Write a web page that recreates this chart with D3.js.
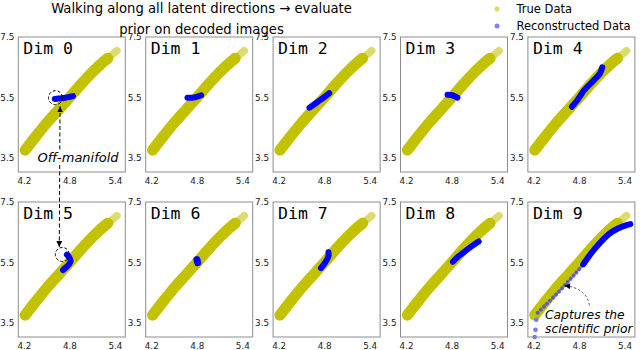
<!DOCTYPE html>
<html>
<head>
<meta charset="utf-8">
<script src="https://cdn.jsdelivr.net/npm/d3@7"></script>
<style>
  body { margin: 0; background: #fff; }
  text { font-family: "DejaVu Sans", sans-serif; }
</style>
</head>
<body>
<svg id="fig" width="640" height="350"></svg>
<script>
// tick labels shared by every panel
var xTicks = [4.2, 4.8, 5.4];
var yTicks = [3.5, 5.5, 7.5];
var dims = [0, 1, 2, 3, 4, 5, 6, 7, 8, 9];

// true data: centre of the dense yellow manifold, and its sparse tail
var trueX = [4.21, 4.35, 4.5, 4.65, 4.8, 4.95, 5.1, 5.25, 5.3];
var trueY = [3.77, 4.22, 4.68, 5.1, 5.52, 5.95, 6.35, 6.7, 6.8];
var tailX = [5.28, 5.35, 5.42];
var tailY = [6.76, 6.9, 7.05];

// reconstructed data when walking along each latent direction
var walkX = [
  [4.6, 4.65, 4.72, 4.78, 4.84],
  [4.67, 4.72, 4.78, 4.85],
  [4.6, 4.7, 4.8, 4.86],
  [4.74, 4.8, 4.87],
  [4.7, 4.78, 4.86, 4.94, 5.01, 5.07, 5.1],
  [4.76, 4.79, 4.81, 4.79, 4.75, 4.71],
  [4.795, 4.805],
  [4.75, 4.79, 4.83, 4.85, 4.85],
  [4.81, 4.88, 4.95, 5.05, 5.15],
  [4.85, 4.95, 5.05, 5.19, 5.3, 5.4, 5.47]
];
var walkY = [
  [5.46, 5.47, 5.49, 5.52, 5.55],
  [5.5, 5.5, 5.52, 5.58],
  [5.17, 5.35, 5.53, 5.65],
  [5.6, 5.58, 5.5],
  [5.2, 5.45, 5.74, 5.95, 6.13, 6.3, 6.5],
  [5.76, 5.68, 5.57, 5.45, 5.35, 5.26],
  [5.6, 5.5],
  [5.32, 5.45, 5.6, 5.72, 5.84],
  [5.53, 5.7, 5.84, 6.03, 6.2],
  [5.45, 5.8, 6.1, 6.45, 6.62, 6.72, 6.77]
];
// dim 9: the sparser lower part of the walk
var sparseX = [4.25, 4.35, 4.45, 4.55, 4.65, 4.75, 4.85];
var sparseY = [3.85, 4.1, 4.35, 4.6, 4.88, 5.15, 5.45];
var looseX = [4.21, 4.22, 4.23];
var looseY = [3.05, 3.29, 3.62];

// layout
var left0 = 18.3, colStep = 127.4, top0 = 37, rowStep = 165;
var panelW = 107, panelH = 135;
var yellow = "#c2c200", blue = "#0000ff";

var svg = d3.select("#fig");

var x = d3.scaleLinear().domain([4.12, 5.53]).range([0, panelW]);
var y = d3.scaleLinear().domain([3.05, 7.5]).range([panelH, 0]);

function ox(i) { return left0 + (i % 5) * colStep; }
function oy(i) { return top0 + Math.floor(i / 5) * rowStep; }

var line = d3.line()
  .x(function(d) { return x(d[0]); })
  .y(function(d) { return y(d[1]); })
  .curve(d3.curveCatmullRom);

function pts(xs, ys) { return xs.map(function(v, i) { return [v, ys[i]]; }); }

// arrow markers
var defs = svg.append("defs");
defs.append("marker")
  .attr("id", "head")
  .attr("viewBox", "0 0 10 10")
  .attr("refX", 10).attr("refY", 5)
  .attr("markerWidth", 6).attr("markerHeight", 6)
  .attr("markerUnits", "userSpaceOnUse")
  .attr("orient", "auto-start-reverse")
  .append("path")
  .attr("d", "M0,0L10,5L0,10Z")
  .attr("fill", "#000");

// panels
var panels = svg.selectAll("g.panel")
  .data(dims).enter()
  .append("g")
  .attr("class", "panel")
  .attr("transform", function(d) { return "translate(" + ox(d) + "," + oy(d) + ")"; });

panels.each(function(d) {
  var g = d3.select(this);

  // true data band
  g.append("path")
    .attr("d", line(pts(tailX, tailY)))
    .attr("fill", "none")
    .attr("stroke", "#d6d655")
    .attr("stroke-width", 7.5)
    .attr("stroke-linecap", "round")
    .attr("opacity", 0.85);
  g.append("path")
    .attr("d", line(pts(trueX, trueY)))
    .attr("fill", "none")
    .attr("stroke", yellow)
    .attr("stroke-width", 11)
    .attr("stroke-linecap", "round");

  // reconstructed walk
  if (d === 9) {
    g.append("path")
      .attr("d", line(pts(sparseX, sparseY)))
      .attr("fill", "none")
      .attr("stroke", "#3c3cff")
      .attr("stroke-width", 4)
      .attr("stroke-linecap", "round")
      .attr("stroke-dasharray", "0.1 4.2")
      .attr("opacity", 0.75);
    g.selectAll("circle.loose")
      .data(pts(looseX, looseY)).enter()
      .append("circle")
      .attr("class", "loose")
      .attr("cx", function(p) { return x(p[0]); })
      .attr("cy", function(p) { return y(p[1]); })
      .attr("r", 2.3)
      .attr("fill", "#7777ff");
  }
  g.append("path")
    .attr("d", line(pts(walkX[d], walkY[d])))
    .attr("fill", "none")
    .attr("stroke", blue)
    .attr("stroke-width", d === 6 ? 7 : 6)
    .attr("stroke-linecap", "round")
    .attr("stroke-linejoin", "round");

  // frame
  g.append("rect")
    .attr("width", panelW).attr("height", panelH)
    .attr("fill", "none")
    .attr("stroke", "#8c8c8c")
    .attr("stroke-width", 1);

  // ticks
  g.selectAll("text.xt")
    .data(xTicks).enter()
    .append("text")
    .attr("class", "xt")
    .attr("x", function(t) { return x(t); })
    .attr("y", panelH + 12)
    .attr("text-anchor", "middle")
    .attr("font-size", 8.8)
    .attr("fill", "#222")
    .text(function(t) { return t.toFixed(1); });
  g.selectAll("text.yt")
    .data(yTicks).enter()
    .append("text")
    .attr("class", "yt")
    .attr("x", -4)
    .attr("y", function(t) { return y(t); })
    .attr("dy", "0.35em")
    .attr("text-anchor", "end")
    .attr("font-size", 8.8)
    .attr("fill", "#222")
    .text(function(t) { return t.toFixed(1); });

  // panel label
  g.append("text")
    .attr("x", 5)
    .attr("y", 17)
    .style("font-family", "'DejaVu Sans Mono', monospace")
    .attr("font-size", 16.5)
    .attr("fill", "#000")
    .text("Dim " + d);
});

// title
var title = svg.append("text")
  .attr("x", 201.5)
  .attr("text-anchor", "middle")
  .attr("font-size", 13.2)
  .attr("fill", "#000");
title.append("tspan").attr("x", 201.5).attr("y", 13).text("Walking along all latent directions \u2192 evaluate");
title.append("tspan").attr("x", 201.5).attr("y", 33.5).text("prior on decoded images");

// legend
var legend = [
  { label: "True Data", color: "#d9d96e" },
  { label: "Reconstructed Data", color: "#7f7fff" }
];
var lg = svg.append("g").attr("transform", "translate(497,9)");
lg.selectAll("circle")
  .data(legend).enter()
  .append("circle")
  .attr("cx", 0)
  .attr("cy", function(d, i) { return i * 17; })
  .attr("r", 2.5)
  .attr("fill", function(d) { return d.color; });
lg.selectAll("text")
  .data(legend).enter()
  .append("text")
  .attr("x", 19.5)
  .attr("y", function(d, i) { return i * 17 + 4; })
  .attr("font-size", 11.5)
  .attr("fill", "#000")
  .text(function(d) { return d.label; });

// annotations (positions in data units of their panel)
function fx(p, v) { return ox(p) + x(v); }
function fy(p, v) { return oy(p) + y(v); }

[[0, 4.61, 5.5], [5, 4.7, 5.77]].forEach(function(c) {
  svg.append("circle")
    .attr("cx", fx(c[0], c[1]))
    .attr("cy", fy(c[0], c[2]))
    .attr("r", 7)
    .attr("fill", "none")
    .attr("stroke", "#000")
    .attr("stroke-width", 1)
    .attr("stroke-dasharray", "3,2");
});

svg.append("line")
  .attr("x1", fx(0, 4.67)).attr("y1", fy(0, 5.21))
  .attr("x2", fx(5, 4.66)).attr("y2", fy(5, 6.02))
  .attr("stroke", "#000")
  .attr("stroke-width", 1)
  .attr("stroke-dasharray", "4,2.5")
  .attr("marker-start", "url(#head)")
  .attr("marker-end", "url(#head)");

var off = svg.append("text")
  .attr("x", fx(0, 4.907))
  .attr("y", fy(0, 3.39))
  .attr("text-anchor", "middle")
  .attr("font-size", 13)
  .attr("font-style", "italic")
  .attr("fill", "#000")
  .text("Off-manifold");
var bb = off.node().getBBox();
svg.insert("rect", function() { return off.node(); })
  .attr("x", bb.x - 1).attr("y", bb.y + 1)
  .attr("width", bb.width + 2).attr("height", bb.height - 2)
  .attr("fill", "#fff");

// dim 9 annotation
var s = [4.93, 4.09], c = [4.9, 4.65], t = [4.6, 4.75];
svg.append("path")
  .attr("d", "M" + fx(9, s[0]) + "," + fy(9, s[1]) +
             "Q" + fx(9, c[0]) + "," + fy(9, c[1]) +
             " " + fx(9, t[0]) + "," + fy(9, t[1]))
  .attr("fill", "none")
  .attr("stroke", "#333")
  .attr("stroke-width", 0.8)
  .attr("stroke-dasharray", "2.5,2")
  .attr("marker-end", "url(#head)");

var cap = svg.append("text")
  .attr("x", fx(9, 4.345))
  .attr("y", fy(9, 3.64))
  .attr("font-size", 12.3)
  .attr("font-style", "italic")
  .attr("fill", "#000");
cap.append("tspan").attr("x", fx(9, 4.345)).text("Captures the");
cap.append("tspan").attr("x", fx(9, 4.345)).attr("dy", 14).text("scientific prior");
</script>
</body>
</html>
